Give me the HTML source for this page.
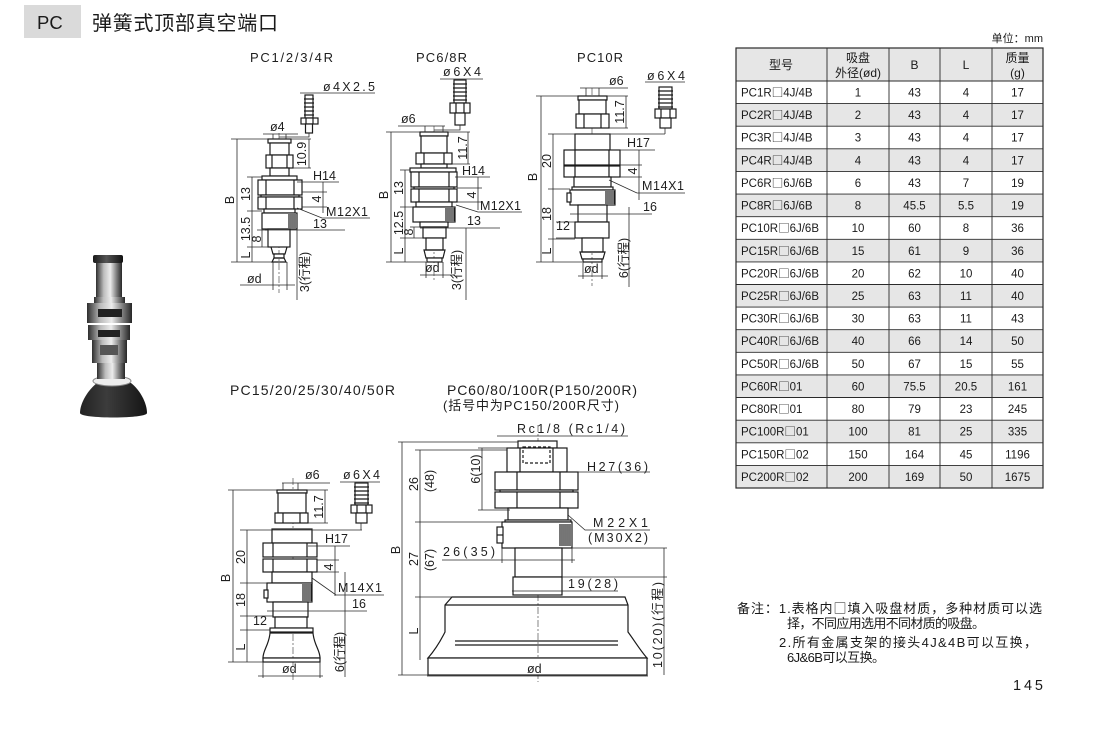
<!DOCTYPE html>
<html><head><meta charset="utf-8"><style>
html,body{margin:0;padding:0;background:#fff;}
body{width:1108px;height:734px;overflow:hidden;}
svg{display:block;font-family:"Liberation Sans","Noto Sans CJK SC",sans-serif;}
.s{stroke:#1a1a1a;stroke-width:1.2;fill:#fff;}
.s path{fill:none;}
.hp{stroke:#1a1a1a;stroke-width:1.2;fill:none;}
.dm{stroke:#2a2a2a;stroke-width:0.8;fill:none;}
.cl{stroke:#333;stroke-width:0.6;stroke-dasharray:7 2 2 2;fill:none;}
.t{font-size:12.5px;fill:#1e1e1e;}
.tb{font-size:11.5px;fill:#1a1a1a;}
.tc{text-anchor:middle;}
.bx{font-family:"Noto Sans CJK SC",sans-serif;}
</style></head><body>
<svg width="1108" height="734" viewBox="0 0 1108 734" xmlns="http://www.w3.org/2000/svg">
<defs>
<linearGradient id="met" x1="0" x2="1" y1="0" y2="0">
<stop offset="0" stop-color="#2e2e2e"/><stop offset="0.3" stop-color="#bdbdbd"/><stop offset="0.55" stop-color="#ececec"/><stop offset="0.8" stop-color="#7a7a7a"/><stop offset="1" stop-color="#262626"/>
</linearGradient>
<linearGradient id="dk" x1="0" x2="1" y1="0" y2="0">
<stop offset="0" stop-color="#1a1a1a"/><stop offset="0.45" stop-color="#555"/><stop offset="1" stop-color="#111"/>
</linearGradient>
<linearGradient id="cup" x1="0" x2="1" y1="0" y2="0">
<stop offset="0" stop-color="#222"/><stop offset="0.4" stop-color="#3c3c3c"/><stop offset="1" stop-color="#151515"/>
</linearGradient>
</defs>

<!-- Header -->
<rect x="24" y="5" width="57" height="33" fill="#dadada"/>
<text x="37" y="29" font-size="18.5" fill="#1a1a1a">PC</text>
<text x="92" y="30" font-size="20" fill="#1a1a1a" textLength="186">弹簧式顶部真空端口</text>

<!-- Photo -->
<g>
<path d="M97 383H131C140 390 147 403 147 413C147 419 80 419 80 413C80 403 88 390 97 383Z" fill="url(#cup)"/>
<ellipse cx="112" cy="381" rx="19" ry="5" fill="#eee" stroke="#888" stroke-width="1"/>
<rect x="97" y="363" width="28" height="16" fill="url(#met)"/>
<rect x="92" y="340" width="35" height="23" fill="url(#met)"/>
<rect x="100" y="345" width="18" height="10" fill="#555"/>
<rect x="88" y="325" width="42" height="15" fill="url(#met)"/>
<rect x="98" y="330" width="22" height="7" fill="#222"/>
<rect x="87" y="303" width="45" height="20" fill="url(#met)"/>
<rect x="98" y="309" width="24" height="8" fill="#222"/>
<rect x="94" y="297" width="31" height="6" fill="url(#met)"/>
<rect x="96" y="262" width="26" height="35" fill="url(#met)"/>
<rect x="93" y="255" width="30" height="8" rx="2" fill="url(#dk)"/>
</g>

<!-- Titles -->
<g class="t" font-size="13">
<text x="250" y="62" textLength="83" font-size="13">PC1/2/3/4R</text>
<text x="416" y="62" textLength="51" font-size="13">PC6/8R</text>
<text x="577" y="62" textLength="46" font-size="13">PC10R</text>
<text x="230" y="395" textLength="165" font-size="14">PC15/20/25/30/40/50R</text>
<text x="447" y="395" textLength="190" font-size="14">PC60/80/100R(P150/200R)</text>
<text x="443" y="410" textLength="176" font-size="13">(括号中为PC150/200R尺寸)</text>
</g>

<!-- ============ Drawing 1: PC1/2/3/4R ============ -->
<line class="cl" x1="279" y1="133" x2="279" y2="293"/>
<g class="s">
<rect x="305" y="95" width="8" height="23"/>
<path d="M304 99h10M304 103h10M304 107h10M304 111h10M304 115h10"/>
<rect x="301" y="118" width="17" height="6"/>
<path d="M306 118v6M313 118v6"/>
<rect x="305.5" y="124" width="7" height="9"/>
<rect x="268" y="139" width="23" height="4"/>
<rect x="270" y="143" width="19" height="12"/>
<rect x="266" y="155" width="27" height="13"/>
<path d="M272 155v13M287 155v13"/>
<rect x="270" y="168" width="19" height="8"/>
<rect x="262" y="176" width="35" height="4"/>
<rect x="258" y="180" width="44" height="15"/>
<path d="M266 180v15M294 180v15"/>
<rect x="261" y="195" width="38" height="2"/>
<rect x="258" y="197" width="44" height="12"/>
<path d="M266 197v12M294 197v12"/>
<rect x="264" y="209" width="31" height="4"/>
<rect x="262" y="213" width="35" height="16"/>
<path class="hp" d="M289 214v14M291 214v14M293 214v14M295 214v14"/>
<rect x="268" y="229" width="22" height="18"/>
<path d="M271 247l2 7h12l2-7"/>
<rect x="274" y="254" width="10" height="4"/>
<path d="M272 262h14l-2-4h-10z"/>
</g>
<g class="dm">
<path d="M309 133v4h-30"/>
<path d="M231 139h37M231 262h41M237 139v123"/>
<path d="M247 177h15M247 211h15M247 247h21M252 177v85"/>
<path d="M257 230h11M262 230v17"/>
<path d="M291 139h20M293 168h18M309 139v29"/>
<path d="M297 182h42M302 192h25M302 207h25M323 182v31"/>
<path d="M297 208l25 10h48"/>
<path d="M265 230h80"/>
<path d="M273 262v28M287 262v28M240 285h55"/>
<path d="M297 230v70"/>
<path d="M300 93h75"/>
<path d="M263 134h35M273 134v5M286 134v5"/>
</g>
<g class="t">
<text x="323" y="91" textLength="52">ø4X2.5</text>
<text x="270" y="131">ø4</text>
<text class="tc" transform="translate(234,200) rotate(-90)">B</text>
<text class="tc" transform="translate(250,194) rotate(-90)">13</text>
<text class="tc" transform="translate(250,229) rotate(-90)">13.5</text>
<text class="tc" transform="translate(261,239) rotate(-90)">8</text>
<text class="tc" transform="translate(250,255) rotate(-90)">L</text>
<text class="tc" transform="translate(306,154) rotate(-90)">10.9</text>
<text x="313" y="180">H14</text>
<text class="tc" transform="translate(321,199) rotate(-90)">4</text>
<text x="326" y="216" textLength="42">M12X1</text>
<text x="313" y="228">13</text>
<text x="247" y="283">ød</text>
<text class="tc" transform="translate(309,272) rotate(-90)">3(行程)</text>
</g>

<!-- ============ Drawing 2: PC6/8R ============ -->
<line class="cl" x1="434" y1="126" x2="434" y2="282"/>
<g class="s">
<rect x="454" y="80" width="12" height="23"/>
<path d="M453 84h14M453 88h14M453 92h14M453 96h14M453 100h14"/>
<rect x="450" y="103" width="20" height="10"/>
<path d="M456 103v10M464 103v10"/>
<rect x="455" y="113" width="10" height="12"/>
<rect x="420" y="132" width="28" height="4"/>
<rect x="421" y="136" width="26" height="17"/>
<rect x="416" y="153" width="36" height="11"/>
<path d="M424 153v11M444 153v11"/>
<rect x="421" y="164" width="26" height="4"/>
<rect x="410" y="168" width="46" height="4"/>
<rect x="411" y="172" width="46" height="15"/>
<path d="M419 172v15M449 172v15"/>
<rect x="414" y="187" width="40" height="2"/>
<rect x="411" y="189" width="46" height="13"/>
<path d="M419 189v13M449 189v13"/>
<rect x="416" y="202" width="36" height="5"/>
<rect x="413" y="207" width="42" height="15"/>
<path class="hp" d="M446 208v13M448 208v13M450 208v13M452 208v13M454 208v13"/>
<rect x="420" y="222" width="28" height="5"/>
<rect x="423" y="227" width="23" height="11"/>
<rect x="426" y="238" width="17" height="12"/>
<path d="M424 250h21l-2 8h-17z"/>
<rect x="427" y="258" width="15" height="4"/>
</g>
<g class="dm">
<path d="M460 125v5h-26"/>
<path d="M386 132h34M386 262h40M391 132v130"/>
<path d="M400 170h10M400 207h13M400 238h23M405 170v92"/>
<path d="M410 227h13M414 227v11"/>
<path d="M448 132h22M452 164h18M468 132v32"/>
<path d="M455 177h35M457 188h25M457 202h25M478 177v33"/>
<path d="M456 205l22 7h44"/>
<path d="M420 228h80"/>
<path d="M426 262v16M443 262v16M420 275h35"/>
<path d="M466 228v72"/>
<path d="M440 79h43"/>
<path d="M398 126h47M425 126v6M443 126v6"/>
</g>
<g class="t">
<text x="443" y="76" textLength="38">ø6X4</text>
<text x="401" y="123">ø6</text>
<text class="tc" transform="translate(388,195) rotate(-90)">B</text>
<text class="tc" transform="translate(403,188) rotate(-90)">13</text>
<text class="tc" transform="translate(403,223) rotate(-90)">12.5</text>
<text class="tc" transform="translate(413,232) rotate(-90)">8</text>
<text class="tc" transform="translate(403,251) rotate(-90)">L</text>
<text class="tc" transform="translate(467,148) rotate(-90)">11.7</text>
<text x="462" y="175">H14</text>
<text class="tc" transform="translate(476,195) rotate(-90)">4</text>
<text x="480" y="210" textLength="41">M12X1</text>
<text x="467" y="225">13</text>
<text x="425" y="272">ød</text>
<text class="tc" transform="translate(461,270) rotate(-90)">3(行程)</text>
</g>

<!-- ============ Drawing 3: PC10R ============ -->
<line class="cl" x1="592" y1="88" x2="592" y2="286"/>
<g class="s">
<rect x="659" y="87" width="13" height="22"/>
<path d="M658 91h15M658 95h15M658 99h15M658 103h15M658 107h15"/>
<rect x="655" y="109" width="21" height="9"/>
<path d="M661 109v9M670 109v9"/>
<rect x="660" y="118" width="11" height="10"/>
<rect x="578" y="96" width="29" height="4"/>
<rect x="579" y="100" width="27" height="14"/>
<rect x="576" y="114" width="33" height="14"/>
<path d="M584 114v14M601 114v14"/>
<rect x="575" y="134" width="35" height="16"/>
<rect x="564" y="150" width="56" height="15"/>
<path d="M575 150v15M609 150v15"/>
<rect x="564" y="166" width="56" height="11"/>
<path d="M575 166v11M609 166v11"/>
<rect x="574" y="177" width="37" height="10"/>
<rect x="572" y="187" width="41" height="3"/>
<rect x="570" y="190" width="45" height="15"/>
<path class="hp" d="M606 191v13M608 191v13M610 191v13M612 191v13M614 191v13"/>
<rect x="567" y="193" width="4" height="9"/>
<rect x="578" y="205" width="29" height="17"/>
<rect x="575" y="222" width="34" height="16"/>
<rect x="582" y="238" width="21" height="14"/>
<path d="M580 252h25l-2 7h-21z"/>
<rect x="583" y="259" width="19" height="3"/>
</g>
<g class="dm">
<path d="M665 128v6"/>
<path d="M536 96h42M536 262h46M541 96v166"/>
<path d="M548 134h117M548 189h22M548 239h27M553 134v128"/>
<path d="M556 222h19M556 238h19"/>
<path d="M607 96h21M609 128h19M626 96v32"/>
<path d="M610 150h45M620 165h22M620 177h22M639 150v50"/>
<path d="M609 180l28 13h48"/>
<path d="M570 214h82"/>
<path d="M583 262v17M602 262v17M578 276h30"/>
<path d="M629 207v80"/>
<path d="M645 82h40"/>
<path d="M580 88h48M586 88v8M599 88v8"/>
</g>
<g class="t">
<text x="647" y="80" textLength="38">ø6X4</text>
<text x="609" y="85">ø6</text>
<text class="tc" transform="translate(537,177) rotate(-90)">B</text>
<text class="tc" transform="translate(551,161) rotate(-90)">20</text>
<text class="tc" transform="translate(551,214) rotate(-90)">18</text>
<text x="556" y="230">12</text>
<text class="tc" transform="translate(551,251) rotate(-90)">L</text>
<text class="tc" transform="translate(624,112) rotate(-90)">11.7</text>
<text x="627" y="147">H17</text>
<text class="tc" transform="translate(637,171) rotate(-90)">4</text>
<text x="642" y="190" textLength="42">M14X1</text>
<text x="643" y="211">16</text>
<text x="584" y="273">ød</text>
<text class="tc" transform="translate(628,258) rotate(-90)">6(行程)</text>
</g>

<!-- ============ Drawing 4: PC15..50R ============ -->
<line class="cl" x1="293" y1="478" x2="293" y2="682"/>
<g class="s">
<rect x="355" y="483" width="13" height="22"/>
<path d="M354 487h15M354 491h15M354 495h15M354 499h15M354 503h15"/>
<rect x="351" y="505" width="21" height="8"/>
<path d="M357 505v8M366 505v8"/>
<rect x="356" y="513" width="11" height="10"/>
<rect x="277" y="490" width="30" height="3"/>
<rect x="278" y="493" width="28" height="20"/>
<rect x="275" y="513" width="33" height="10"/>
<path d="M283 513v10M300 513v10"/>
<rect x="272" y="529" width="40" height="14"/>
<rect x="263" y="543" width="54" height="14"/>
<path d="M273 543v14M307 543v14"/>
<rect x="263" y="559" width="54" height="13"/>
<path d="M273 559v13M307 559v13"/>
<rect x="272" y="572" width="40" height="11"/>
<rect x="267" y="583" width="45" height="19"/>
<path class="hp" d="M303 584v17M305 584v17M307 584v17M309 584v17M311 584v17"/>
<rect x="264" y="590" width="4" height="8"/>
<rect x="273" y="602" width="35" height="15"/>
<rect x="275" y="617" width="32" height="11"/>
<rect x="270" y="628" width="43" height="4"/>
<path d="M270 633H313C314 645 320 650 320 658H263C263 650 269 645 270 633Z" fill="#fff"/>
<rect x="263" y="658" width="57" height="4"/>
</g>
<g class="dm">
<path d="M361 523v7"/>
<path d="M228 490h49M228 662h35M233 490v172"/>
<path d="M240 530h122M240 583h27M240 616h33M240 630h30M247 530v132"/>
<path d="M307 490h21M308 523h20M325 490v33"/>
<path d="M308 546h42M317 560h22M317 572h22M335 546v50"/>
<path d="M312 578l24 17h48"/>
<path d="M267 611h100"/>
<path d="M263 662v16M320 662v16M258 676h65"/>
<path d="M345 572v105"/>
<path d="M340 482h40"/>
<path d="M282 483h48M283 483v7M298 483v7"/>
</g>
<g class="t">
<text x="343" y="479" textLength="37">ø6X4</text>
<text x="305" y="479">ø6</text>
<text class="tc" transform="translate(230,578) rotate(-90)">B</text>
<text class="tc" transform="translate(245,557) rotate(-90)">20</text>
<text class="tc" transform="translate(245,600) rotate(-90)">18</text>
<text x="253" y="625">12</text>
<text class="tc" transform="translate(245,647) rotate(-90)">L</text>
<text class="tc" transform="translate(323,507) rotate(-90)">11.7</text>
<text x="325" y="543">H17</text>
<text class="tc" transform="translate(333,567) rotate(-90)">4</text>
<text x="338" y="592" textLength="44">M14X1</text>
<text x="352" y="608">16</text>
<text x="282" y="673">ød</text>
<text class="tc" transform="translate(344,652) rotate(-90)">6(行程)</text>
</g>

<!-- ============ Drawing 5: PC60..200R ============ -->
<line class="cl" x1="538" y1="425" x2="538" y2="682"/>
<g class="s">
<path d="M452 597H625L628 605V632C634 640 640 650 647 658H428C435 650 441 640 445 632V605Z" fill="#fff"/>
<rect x="428" y="658" width="219" height="17"/>
<path d="M445 605H628"/>
<path d="M455 641H618M455 645H618"/>
<rect x="518" y="441" width="39" height="7"/>
<rect x="507" y="448" width="60" height="24"/>
<path d="M520 448v24M553 448v24"/>
<rect x="523" y="447" width="27" height="16" stroke-dasharray="3 2" fill="none"/>
<rect x="495" y="472" width="83" height="18"/>
<path d="M517 472v18M560 472v18"/>
<rect x="500" y="490" width="73" height="2"/>
<rect x="495" y="492" width="83" height="16"/>
<path d="M517 492v16M560 492v16"/>
<rect x="508" y="508" width="60" height="12"/>
<rect x="505" y="520" width="66" height="2"/>
<rect x="502" y="522" width="70" height="26"/>
<path class="hp" d="M560 524v22M562 524v22M564 524v22M566 524v22M568 524v22M570 524v22"/>
<rect x="497" y="527" width="6" height="16"/>
<path d="M497 535h6"/>
<rect x="515" y="548" width="47" height="29"/>
<rect x="513" y="577" width="49" height="18"/>
</g>
<g class="dm">
<path d="M398 442h120M398 675h30M402 442v233"/>
<path d="M415 450h92M415 522h87M415 597h37M420 450v210"/>
<path d="M478 448h32M478 510h32M482 448v62"/>
<path d="M497 436h131"/>
<path d="M567 472h83"/>
<path d="M568 515l17 15h65"/>
<path d="M442 560h133M502 548v15M572 548v15"/>
<path d="M512 591h106"/>
<path d="M572 548h95M562 577h105M664 548v127"/>
<path d="M427 676h221"/>
</g>
<g class="t">
<text x="517" y="433" textLength="108">Rc1/8 (Rc1/4)</text>
<text class="tc" transform="translate(400,550) rotate(-90)">B</text>
<text class="tc" transform="translate(418,484) rotate(-90)">26</text>
<text class="tc" transform="translate(434,481) rotate(-90)">(48)</text>
<text class="tc" transform="translate(418,559) rotate(-90)">27</text>
<text class="tc" transform="translate(434,560) rotate(-90)">(67)</text>
<text class="tc" transform="translate(418,631) rotate(-90)">L</text>
<text class="tc" transform="translate(480,469) rotate(-90)">6(10)</text>
<text x="587" y="471" textLength="61">H27(36)</text>
<text x="593" y="527" textLength="55">M22X1</text>
<text x="588" y="542" textLength="60">(M30X2)</text>
<text x="443" y="556" textLength="52">26(35)</text>
<text x="568" y="588" textLength="50">19(28)</text>
<text x="527" y="673">ød</text>
<text class="tc" transform="translate(662,625) rotate(-90)" textLength="86">10(20)(行程)</text>
</g>

<!-- ============ Table ============ -->
<text x="1043" y="42" font-size="11" text-anchor="end" fill="#1a1a1a">单位：mm</text>
<g>
<rect x="736" y="48" width="307" height="33" fill="#e6e6e6"/>
<rect x="736" y="103.6" width="307" height="22.6" fill="#e6e6e6"/>
<rect x="736" y="148.8" width="307" height="22.6" fill="#e6e6e6"/>
<rect x="736" y="194.1" width="307" height="22.6" fill="#e6e6e6"/>
<rect x="736" y="239.3" width="307" height="22.6" fill="#e6e6e6"/>
<rect x="736" y="284.5" width="307" height="22.6" fill="#e6e6e6"/>
<rect x="736" y="329.7" width="307" height="22.6" fill="#e6e6e6"/>
<rect x="736" y="374.9" width="307" height="22.6" fill="#e6e6e6"/>
<rect x="736" y="420.2" width="307" height="22.6" fill="#e6e6e6"/>
<rect x="736" y="465.4" width="307" height="22.6" fill="#e6e6e6"/>
</g>
<g stroke="#2a2a2a" stroke-width="0.9" fill="none">
<rect x="736" y="48" width="307" height="440" stroke-width="1.2"/>
<path d="M827 48V488M889 48V488M940 48V488M992 48V488"/>
<path d="M736 81H1043M736 103.6H1043M736 126.2H1043M736 148.8H1043M736 171.4H1043M736 194.1H1043M736 216.7H1043M736 239.3H1043M736 261.9H1043M736 284.5H1043M736 307.1H1043M736 329.7H1043M736 352.3H1043M736 374.9H1043M736 397.5H1043M736 420.2H1043M736 442.8H1043M736 465.4H1043"/>
</g>
<g class="tb">
<text x="781" y="69" class="tc" font-size="12">型号</text>
<text x="858" y="62" class="tc" font-size="12">吸盘</text>
<text x="858" y="77" class="tc" font-size="12">外径(ød)</text>
<text x="914.5" y="69" class="tc" font-size="12">B</text>
<text x="966" y="69" class="tc" font-size="12">L</text>
<text x="1017.5" y="62" class="tc" font-size="12">质量</text>
<text x="1017.5" y="77" class="tc" font-size="12">(g)</text>
</g>
<g class="tb">
<text x="741" y="96.5">PC1R<tspan class="bx">□</tspan>4J/4B</text><text x="858" y="96.5" class="tc">1</text><text x="914.5" y="96.5" class="tc">43</text><text x="966" y="96.5" class="tc">4</text><text x="1017.5" y="96.5" class="tc">17</text>
<text x="741" y="119.1">PC2R<tspan class="bx">□</tspan>4J/4B</text><text x="858" y="119.1" class="tc">2</text><text x="914.5" y="119.1" class="tc">43</text><text x="966" y="119.1" class="tc">4</text><text x="1017.5" y="119.1" class="tc">17</text>
<text x="741" y="141.7">PC3R<tspan class="bx">□</tspan>4J/4B</text><text x="858" y="141.7" class="tc">3</text><text x="914.5" y="141.7" class="tc">43</text><text x="966" y="141.7" class="tc">4</text><text x="1017.5" y="141.7" class="tc">17</text>
<text x="741" y="164.3">PC4R<tspan class="bx">□</tspan>4J/4B</text><text x="858" y="164.3" class="tc">4</text><text x="914.5" y="164.3" class="tc">43</text><text x="966" y="164.3" class="tc">4</text><text x="1017.5" y="164.3" class="tc">17</text>
<text x="741" y="186.9">PC6R<tspan class="bx">□</tspan>6J/6B</text><text x="858" y="186.9" class="tc">6</text><text x="914.5" y="186.9" class="tc">43</text><text x="966" y="186.9" class="tc">7</text><text x="1017.5" y="186.9" class="tc">19</text>
<text x="741" y="209.6">PC8R<tspan class="bx">□</tspan>6J/6B</text><text x="858" y="209.6" class="tc">8</text><text x="914.5" y="209.6" class="tc">45.5</text><text x="966" y="209.6" class="tc">5.5</text><text x="1017.5" y="209.6" class="tc">19</text>
<text x="741" y="232.2">PC10R<tspan class="bx">□</tspan>6J/6B</text><text x="858" y="232.2" class="tc">10</text><text x="914.5" y="232.2" class="tc">60</text><text x="966" y="232.2" class="tc">8</text><text x="1017.5" y="232.2" class="tc">36</text>
<text x="741" y="254.8">PC15R<tspan class="bx">□</tspan>6J/6B</text><text x="858" y="254.8" class="tc">15</text><text x="914.5" y="254.8" class="tc">61</text><text x="966" y="254.8" class="tc">9</text><text x="1017.5" y="254.8" class="tc">36</text>
<text x="741" y="277.4">PC20R<tspan class="bx">□</tspan>6J/6B</text><text x="858" y="277.4" class="tc">20</text><text x="914.5" y="277.4" class="tc">62</text><text x="966" y="277.4" class="tc">10</text><text x="1017.5" y="277.4" class="tc">40</text>
<text x="741" y="300">PC25R<tspan class="bx">□</tspan>6J/6B</text><text x="858" y="300" class="tc">25</text><text x="914.5" y="300" class="tc">63</text><text x="966" y="300" class="tc">11</text><text x="1017.5" y="300" class="tc">40</text>
<text x="741" y="322.6">PC30R<tspan class="bx">□</tspan>6J/6B</text><text x="858" y="322.6" class="tc">30</text><text x="914.5" y="322.6" class="tc">63</text><text x="966" y="322.6" class="tc">11</text><text x="1017.5" y="322.6" class="tc">43</text>
<text x="741" y="345.2">PC40R<tspan class="bx">□</tspan>6J/6B</text><text x="858" y="345.2" class="tc">40</text><text x="914.5" y="345.2" class="tc">66</text><text x="966" y="345.2" class="tc">14</text><text x="1017.5" y="345.2" class="tc">50</text>
<text x="741" y="367.8">PC50R<tspan class="bx">□</tspan>6J/6B</text><text x="858" y="367.8" class="tc">50</text><text x="914.5" y="367.8" class="tc">67</text><text x="966" y="367.8" class="tc">15</text><text x="1017.5" y="367.8" class="tc">55</text>
<text x="741" y="390.4">PC60R<tspan class="bx">□</tspan>01</text><text x="858" y="390.4" class="tc">60</text><text x="914.5" y="390.4" class="tc">75.5</text><text x="966" y="390.4" class="tc">20.5</text><text x="1017.5" y="390.4" class="tc">161</text>
<text x="741" y="413">PC80R<tspan class="bx">□</tspan>01</text><text x="858" y="413" class="tc">80</text><text x="914.5" y="413" class="tc">79</text><text x="966" y="413" class="tc">23</text><text x="1017.5" y="413" class="tc">245</text>
<text x="741" y="435.7">PC100R<tspan class="bx">□</tspan>01</text><text x="858" y="435.7" class="tc">100</text><text x="914.5" y="435.7" class="tc">81</text><text x="966" y="435.7" class="tc">25</text><text x="1017.5" y="435.7" class="tc">335</text>
<text x="741" y="458.3">PC150R<tspan class="bx">□</tspan>02</text><text x="858" y="458.3" class="tc">150</text><text x="914.5" y="458.3" class="tc">164</text><text x="966" y="458.3" class="tc">45</text><text x="1017.5" y="458.3" class="tc">1196</text>
<text x="741" y="480.9">PC200R<tspan class="bx">□</tspan>02</text><text x="858" y="480.9" class="tc">200</text><text x="914.5" y="480.9" class="tc">169</text><text x="966" y="480.9" class="tc">50</text><text x="1017.5" y="480.9" class="tc">1675</text>
</g>

<!-- Notes -->
<g font-size="13" fill="#1a1a1a">
<text x="737" y="613" textLength="305">备注：1.表格内<tspan class="bx">□</tspan>填入吸盘材质，多种材质可以选</text>
<text x="787" y="628" textLength="198">择，不同应用选用不同材质的吸盘。</text>
<text x="779" y="647" textLength="258">2.所有金属支架的接头4J&amp;4B可以互换，</text>
<text x="787" y="662" textLength="98">6J&amp;6B可以互换。</text>
</g>
<text x="1013" y="690" font-size="14.5" fill="#1a1a1a" textLength="30">145</text>
</svg>
</body></html>
